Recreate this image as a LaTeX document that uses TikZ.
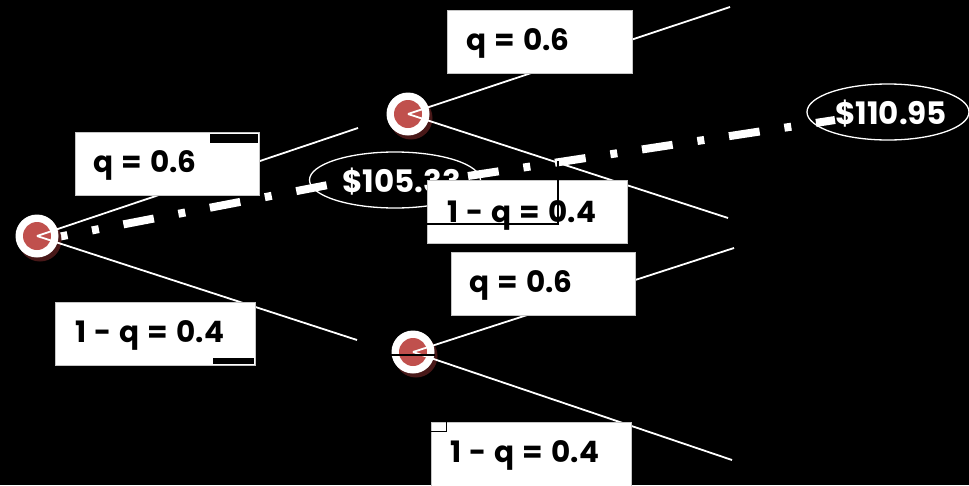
\documentclass[tikz,border=0pt]{standalone}
\usepackage{fontspec}
\setmainfont{Poppins}[WordSpace=1.3]
\usetikzlibrary{shapes.geometric}
\definecolor{nodered}{RGB}{192,80,77}
\definecolor{shadowred}{RGB}{72,24,24}
\begin{document}
\begin{tikzpicture}[x=1pt,y=-1pt,
  branch/.style={draw=white, line width=1.8pt},
  probbox/.style={fill=white, draw=gray!45, line width=0.7pt, rectangle, inner sep=0pt, anchor=north west},
  probtext/.style={anchor=base west, font=\fontsize{29.5}{32}\selectfont\bfseries, text=black, inner sep=0pt},
  valtext/.style={anchor=base west, font=\fontsize{31}{33}\selectfont\bfseries, text=white, inner sep=0pt},
  valellipse/.style={draw=white, line width=1.3pt, ellipse, inner sep=0pt},
  pathline/.style={draw=white, line width=8pt, dash pattern=on 31pt off 25pt on 7pt off 25pt},
  chance/.style={circle, fill=white, minimum size=43pt, inner sep=0pt},
  artifact/.style={draw=black, line width=1.6pt},
]
\useasboundingbox (0,0) rectangle (969,485);
\fill[black] (0,0) rectangle (969,485);

% coordinates
\coordinate (rootc) at (37,236);
\coordinate (upc) at (408,114);
\coordinate (lowc) at (413,352);
\coordinate (inUp) at (358,128);
\coordinate (inLow) at (357,340);
\coordinate (uu) at (730,7);
\coordinate (ud) at (728,218);
\coordinate (lu) at (734,248);
\coordinate (ld) at (732,460);
\coordinate (p1s) at (37,241);
\coordinate (p1e) at (328,185);
\coordinate (p2s) at (468,176);
\coordinate (p2e) at (835,120);

% dash-dot rollback path
\draw[pathline] (p1s) -- (p1e);
\draw[pathline] (p2s) -- (p2e);

% chance nodes with shadows
\foreach \c in {rootc,upc,lowc}{
  \fill[shadowred] ([shift={(3,4)}]\c) circle (21.5);
}
\node[chance] (root) at (rootc) {};
\node[chance] (up) at (upc) {};
\node[chance] (low) at (lowc) {};
\foreach \n in {root,up,low}{
  \fill[nodered] (\n.center) circle (14);
}

% branches
\draw[branch] (root.center) -- (inUp);
\draw[branch] (root.center) -- (inLow);
\draw[branch] (up.center) -- (uu);
\draw[branch] (up.center) -- (ud);
\draw[branch] (low.center) -- (lu);
\draw[branch] (low.center) -- (ld);

% value ellipses
\node[valellipse, minimum width=171pt, minimum height=56pt] (v1) at (395,180) {};
\node[valtext] at (342,192) {\$105.33};
\node[valellipse, minimum width=162pt, minimum height=56pt] (v2) at (888,112) {};
\node[valtext] at (835,124) {\$110.95};

% probability boxes
\node[probbox, minimum width=184pt, minimum height=63pt] (bA) at (75,132) {};
\node[probtext] at (93,172) {q = 0.6};
\node[probbox, minimum width=185pt, minimum height=63pt] (bB) at (447,10) {};
\node[probtext] at (466,50) {q = 0.6};
\node[probbox, minimum width=200pt, minimum height=63pt] (bC) at (427,180) {};
\node[probtext] at (447,222) {1 - q = 0.4};
\node[probbox, minimum width=184pt, minimum height=63pt] (bD) at (451,252) {};
\node[probtext] at (469,292) {q = 0.6};
\node[probbox, minimum width=200pt, minimum height=63pt] (bE) at (55,302) {};
\node[probtext] at (75,342) {1 - q = 0.4};
\node[probbox, minimum width=200pt, minimum height=70pt] (bF) at (431,422) {};
\node[probtext] at (450,462) {1 - q = 0.4};

% rendering artifacts
\filldraw[fill=black, draw=white, line width=0.8pt] (209,133) rectangle (258,143.5);
\filldraw[fill=black, draw=white, line width=0.8pt] (212,357) rectangle (254,364.5);
\draw[artifact, line width=1pt] (431,431) -- (446,431) -- (446,422);
\draw[artifact] (427,224) -- (558,224) -- (558,161);
\draw[artifact, line width=2pt] (391,355) -- (435,355);
\end{tikzpicture}
\end{document}
